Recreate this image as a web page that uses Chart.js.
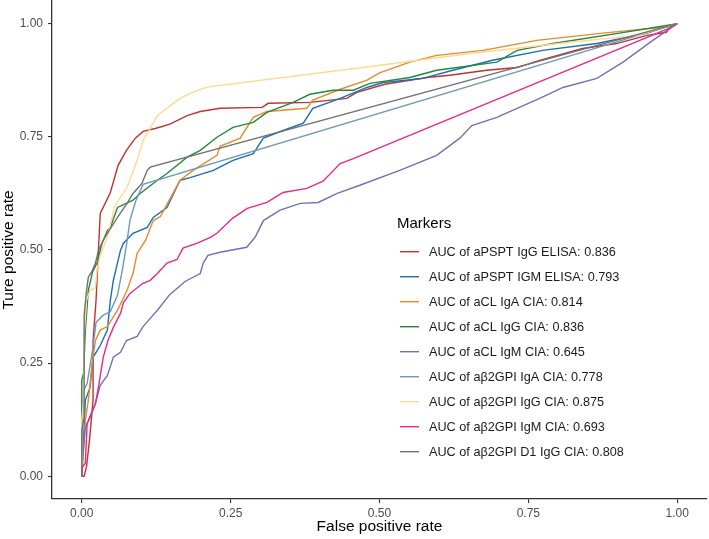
<!DOCTYPE html>
<html>
<head>
<meta charset="utf-8">
<script src="https://cdn.jsdelivr.net/npm/chart.js@4"></script>
<style>
  body { margin: 0; background: #fff; }
  #wrap { width: 709px; height: 539px; position: relative; }
</style>
</head>
<body>
<div id="wrap"><canvas id="myChart"></canvas></div>
<script>
// ROC curves (false positive rate / true positive rate)
const tickValues = [0, 0.25, 0.5, 0.75, 1];

const markerLabels = [
    'AUC of aPSPT IgG ELISA: 0.836',
    'AUC of aPSPT IGM ELISA: 0.793',
    'AUC of aCL IgA CIA: 0.814',
    'AUC of aCL IgG CIA: 0.836',
    'AUC of aCL IgM CIA: 0.645',
    'AUC of a\u03b22GPI IgA CIA: 0.778',
    'AUC of a\u03b22GPI IgG CIA: 0.875',
    'AUC of a\u03b22GPI IgM CIA: 0.693',
    'AUC of a\u03b22GPI D1 IgG CIA: 0.808'
];
const markerColors = ['#c4302b', '#1c6db8', '#e68a2e', '#24883c', '#7570b3', '#6a9ab8', '#fed98e', '#e7298a', '#707070'];

const fprPsptIgG = [0, 0.004, 0.008, 0.013, 0.019, 0.019, 0.024, 0.028, 0.031, 0.048, 0.061, 0.075, 0.09, 0.103, 0.125, 0.148, 0.177, 0.199, 0.232, 0.303, 0.313, 0.383, 0.445, 0.462, 0.509, 0.58, 0.618, 0.68, 0.731, 0.769, 0.841, 0.898, 0.949, 0.982, 0.987, 1];
const tprPsptIgG = [0, 0, 0.022, 0.08, 0.168, 0.30, 0.389, 0.50, 0.581, 0.627, 0.687, 0.72, 0.747, 0.762, 0.769, 0.778, 0.797, 0.806, 0.813, 0.815, 0.824, 0.826, 0.835, 0.848, 0.866, 0.881, 0.886, 0.897, 0.903, 0.919, 0.945, 0.956, 0.974, 0.981, 0.992, 1];

const fprPsptIgM = [0, 0.003, 0.006, 0.014, 0.019, 0.031, 0.043, 0.048, 0.053, 0.065, 0.07, 0.086, 0.11, 0.12, 0.143, 0.165, 0.182, 0.221, 0.254, 0.288, 0.305, 0.338, 0.372, 0.388, 0.434, 0.479, 0.506, 0.573, 0.623, 0.69, 0.774, 0.865, 0.949, 1];
const tprPsptIgM = [0, 0.08, 0.168, 0.197, 0.263, 0.289, 0.323, 0.389, 0.433, 0.499, 0.515, 0.537, 0.55, 0.572, 0.594, 0.654, 0.66, 0.676, 0.698, 0.713, 0.747, 0.764, 0.78, 0.813, 0.835, 0.859, 0.87, 0.879, 0.897, 0.919, 0.941, 0.956, 0.979, 1];

const fprClIgA = [0, 0.003, 0.006, 0.011, 0.018, 0.023, 0.031, 0.043, 0.06, 0.076, 0.086, 0.093, 0.107, 0.12, 0.132, 0.165, 0.187, 0.227, 0.232, 0.266, 0.288, 0.311, 0.378, 0.388, 0.434, 0.479, 0.501, 0.551, 0.596, 0.674, 0.764, 0.875, 0.976, 1];
const tprClIgA = [0, 0.057, 0.124, 0.168, 0.256, 0.30, 0.323, 0.331, 0.367, 0.411, 0.448, 0.493, 0.521, 0.565, 0.574, 0.654, 0.676, 0.709, 0.729, 0.747, 0.793, 0.806, 0.813, 0.831, 0.855, 0.875, 0.892, 0.915, 0.93, 0.941, 0.963, 0.979, 0.992, 1];

const fprClIgG = [0, 0, 0.003, 0.006, 0.011, 0.018, 0.026, 0.034, 0.043, 0.048, 0.06, 0.086, 0.098, 0.127, 0.143, 0.177, 0.199, 0.227, 0.254, 0.288, 0.311, 0.355, 0.383, 0.422, 0.456, 0.484, 0.551, 0.596, 0.697, 0.731, 0.791, 0.903, 0.992, 1];
const tprClIgG = [0, 0.212, 0.228, 0.323, 0.411, 0.451, 0.473, 0.515, 0.543, 0.55, 0.594, 0.61, 0.625, 0.654, 0.669, 0.705, 0.72, 0.749, 0.771, 0.782, 0.804, 0.826, 0.844, 0.853, 0.853, 0.868, 0.881, 0.897, 0.915, 0.941, 0.956, 0.979, 0.998, 1];

const fprClIgM = [0, 0.001, 0.006, 0.014, 0.023, 0.031, 0.043, 0.053, 0.065, 0.075, 0.093, 0.102, 0.115, 0.127, 0.148, 0.174, 0.199, 0.204, 0.212, 0.232, 0.277, 0.291, 0.305, 0.333, 0.367, 0.397, 0.429, 0.467, 0.534, 0.596, 0.635, 0.655, 0.697, 0.769, 0.808, 0.865, 0.909, 0.959, 1];
const tprClIgM = [0, 0.035, 0.108, 0.13, 0.161, 0.201, 0.223, 0.263, 0.274, 0.30, 0.309, 0.329, 0.349, 0.367, 0.402, 0.431, 0.448, 0.471, 0.488, 0.495, 0.506, 0.528, 0.565, 0.588, 0.603, 0.605, 0.625, 0.643, 0.676, 0.709, 0.747, 0.775, 0.793, 0.835, 0.859, 0.879, 0.915, 0.963, 1];

const fprB2IgA = [0, 0.001, 0.003, 0.009, 0.018, 0.024, 0.036, 0.048, 0.06, 0.068, 0.075, 0.081, 0.091, 0.103, 1];
const tprB2IgA = [0, 0.124, 0.19, 0.205, 0.278, 0.34, 0.356, 0.364, 0.40, 0.455, 0.51, 0.566, 0.61, 0.645, 1];

const fprB2IgG = [0, 0, 0.003, 0.004, 0.008, 0.014, 0.023, 0.026, 0.031, 0.043, 0.056, 0.076, 0.093, 0.103, 0.115, 0.127, 0.143, 0.165, 0.182, 0.204, 0.216, 0.501, 0.652, 0.82, 0.932, 1];
const tprB2IgG = [0, 0.124, 0.168, 0.311, 0.389, 0.411, 0.417, 0.459, 0.488, 0.53, 0.599, 0.638, 0.698, 0.742, 0.769, 0.797, 0.813, 0.835, 0.846, 0.857, 0.861, 0.908, 0.934, 0.959, 0.974, 1];

const fprB2IgM = [0, 0.001, 0.006, 0.009, 0.018, 0.023, 0.028, 0.036, 0.044, 0.053, 0.065, 0.07, 0.081, 0.102, 0.115, 0.127, 0.143, 0.16, 0.17, 0.194, 0.216, 0.227, 0.253, 0.278, 0.311, 0.338, 0.378, 0.405, 0.434, 0.456, 0.987, 1];
const tprB2IgM = [0, 0.02, 0.029, 0.117, 0.146, 0.161, 0.197, 0.263, 0.30, 0.329, 0.36, 0.384, 0.404, 0.426, 0.433, 0.448, 0.471, 0.479, 0.504, 0.515, 0.528, 0.537, 0.57, 0.592, 0.605, 0.627, 0.636, 0.652, 0.691, 0.702, 0.99, 1];

const fprB2D1 = [0, 0, 0.004, 0.004, 0.008, 0.011, 0.018, 0.023, 0.028, 0.036, 0.043, 0.06, 0.076, 0.086, 0.101, 0.11, 0.115, 1];
const tprB2D1 = [0, 0.102, 0.13, 0.356, 0.411, 0.44, 0.455, 0.471, 0.499, 0.521, 0.537, 0.572, 0.603, 0.625, 0.647, 0.676, 0.683, 1];

const fprSeries = [fprPsptIgG, fprPsptIgM, fprClIgA, fprClIgG, fprClIgM, fprB2IgA, fprB2IgG, fprB2IgM, fprB2D1];
const tprSeries = [tprPsptIgG, tprPsptIgM, tprClIgA, tprClIgG, tprClIgM, tprB2IgA, tprB2IgG, tprB2IgM, tprB2D1];

function toPoints(xs, ys) {
    return xs.map((x, i) => ({ x: x, y: ys[i] }));
}

const datasets = markerLabels.map((label, i) => ({
    label: label,
    data: toPoints(fprSeries[i], tprSeries[i]),
    borderColor: markerColors[i],
    backgroundColor: markerColors[i],
    borderWidth: 1.4,
    pointRadius: 0,
    showLine: true,
    tension: 0,
    order: markerLabels.length - i   // later series on top, like ggplot
}));

// legend drawn inside the plot, ggplot style
const markerLegend = {
    id: 'markerLegend',
    afterDraw(chart) {
        const ctx = chart.ctx;
        ctx.save();
        ctx.textBaseline = 'middle';
        ctx.textAlign = 'left';
        ctx.fillStyle = '#000';
        ctx.font = '15px "Liberation Sans", Arial, sans-serif';
        ctx.fillText('Markers', 397, 224);
        ctx.font = '12.7px "Liberation Sans", Arial, sans-serif';
        chart.data.datasets.forEach((ds, i) => {
            const y = 251.7 + 25 * i;
            ctx.strokeStyle = ds.borderColor;
            ctx.lineWidth = 1.4;
            ctx.beginPath();
            ctx.moveTo(400, y);
            ctx.lineTo(419, y);
            ctx.stroke();
            ctx.fillStyle = '#1a1a1a';
            ctx.fillText(ds.label, 429, y + 0.5);
        });
        ctx.restore();
    }
};

function fixedTicks(axis) {
    axis.ticks = tickValues.map(v => ({ value: v }));
}

const config = {
    type: 'scatter',
    data: { datasets: datasets },
    options: {
        responsive: true,
        maintainAspectRatio: false,
        animation: false,
        layout: { padding: { top: 1, right: 2, left: 0, bottom: 0 } },
        plugins: {
            legend: { display: false },
            tooltip: { enabled: false }
        },
        scales: {
            x: {
                type: 'linear',
                min: -0.05,
                max: 1.05,
                afterBuildTicks: fixedTicks,
                afterFit: function (scale) {
                    scale.height = 40;
                    scale.paddingLeft = 0;
                    scale.paddingRight = 0;
                },
                border: { display: true, color: '#333', width: 1.3 },
                grid: { drawOnChartArea: false, drawTicks: true, tickLength: 4, color: '#333', lineWidth: 1.1 },
                ticks: {
                    padding: 3,
                    color: '#4d4d4d',
                    font: { family: '"Liberation Sans", Arial, sans-serif', size: 12 },
                    callback: v => v.toFixed(2)
                },
                title: {
                    display: true,
                    text: 'False positive rate',
                    color: '#000',
                    font: { family: '"Liberation Sans", Arial, sans-serif', size: 15.5, lineHeight: 1.1 },
                    padding: { top: 0, bottom: 4 }
                }
            },
            y: {
                type: 'linear',
                min: -0.05,
                max: 1.05,
                afterBuildTicks: fixedTicks,
                afterFit: function (scale) {
                    scale.width = 52;
                    scale.paddingTop = 0;
                    scale.paddingBottom = 0;
                },
                border: { display: true, color: '#333', width: 1.3 },
                grid: { drawOnChartArea: false, drawTicks: true, tickLength: 4, color: '#333', lineWidth: 1.1 },
                ticks: {
                    padding: 5,
                    color: '#4d4d4d',
                    font: { family: '"Liberation Sans", Arial, sans-serif', size: 12 },
                    callback: v => v.toFixed(2)
                },
                title: {
                    display: true,
                    text: 'Ture positive rate',
                    color: '#000',
                    font: { family: '"Liberation Sans", Arial, sans-serif', size: 15.5, lineHeight: 1.1 },
                    padding: { top: 0, bottom: 0 }
                }
            }
        }
    },
    plugins: [markerLegend]
};

window.myChart = new Chart(document.getElementById('myChart'), config);
</script>
</body>
</html>
